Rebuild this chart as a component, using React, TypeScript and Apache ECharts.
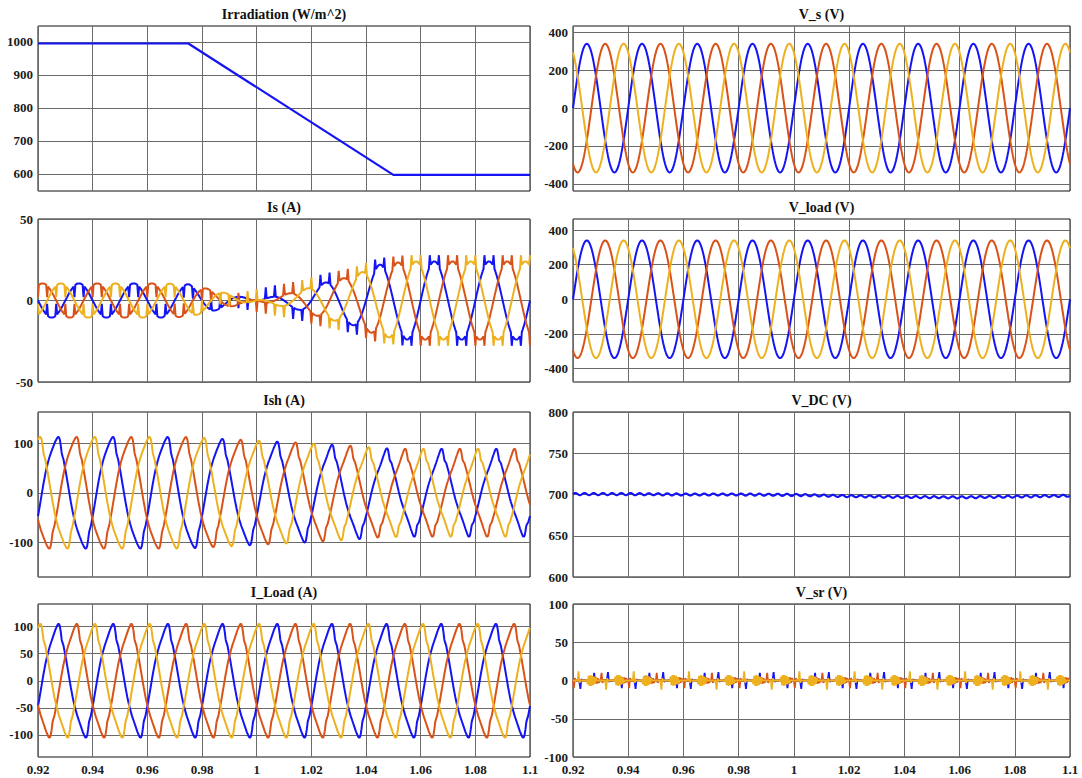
import React, { useEffect, useRef } from 'react';
import * as echarts from 'echarts';

// ---------- time base ----------
const T_START = 0.92;
const T_END = 1.1;
const CYCLE = 0.02; // 50 Hz
const N = 60; // samples per cycle (6 deg each)
const SHIFT = 20; // 120 deg

const xTickValues = [0.92, 0.94, 0.96, 0.98, 1, 1.02, 1.04, 1.06, 1.08, 1.1];

// ---------- Irradiation ----------
const irrTime = [0.92, 0.975, 1.05, 1.1];
const irrValue = [995, 995, 597, 597];
const irrTicks = [600, 700, 800, 900, 1000];

// ---------- grid voltage: one cycle, per unit x1000 ----------
const sineShape = [0, 105, 208, 309, 407, 500, 588, 669, 743, 809, 866, 914, 951, 978, 995, 1000, 995, 978, 951, 914, 866, 809, 743, 669, 588, 500, 407, 309, 208, 105,
  0, -105, -208, -309, -407, -500, -588, -669, -743, -809, -866, -914, -951, -978, -995, -1000, -995, -978, -951, -914, -866, -809, -743, -669, -588, -500, -407, -309, -208, -105];
const vsPeak = 340;
const vloadPeak = 340;
const vTicks = [-400, -200, 0, 200, 400];

// ---------- load current: one cycle of phase a (A) ----------
const iLoadShape = [-47, -38, -28, -18, -8, 2, 12, 21, 30, 38, 45, 52, 58, 64, 69, 74, 79, 84, 89, 94, 98, 102, 105, 105, 101, 90, 76, 70, 65, 56,
  47, 38, 28, 18, 8, -2, -12, -21, -30, -38, -45, -52, -58, -64, -69, -74, -79, -84, -89, -94, -98, -102, -105, -105, -101, -90, -76, -70, -65, -56];
const iLoadTicks = [-100, -50, 0, 50, 100];

// ---------- source current envelope (A, relative to phase voltage) ----------
const isAmpTime = [0.925, 0.935, 0.945, 0.955, 0.965, 0.975, 0.985, 0.995, 1.005, 1.015, 1.025, 1.035, 1.045, 1.055, 1.065, 1.075, 1.085, 1.095];
const isAmp = [-10.5, -10.5, -10.5, -10.5, -10.5, -10, -6, -2, 2, 5.5, 11, 15, 22, 24, 24, 24, 24, 24];
const isSpikeShape = [0, 0, 0, 0, 0, 0, 0, 0, 0, 0, 7, 0, 0, 0, 0, 0, 0, 0, 0, 0, 7, 0, 0, 0, 0, 0, 0, 0, 0, 0,
  0, 0, 0, 0, 0, 0, 0, 0, 0, 0, -7, 0, 0, 0, 0, 0, 0, 0, 0, 0, -7, 0, 0, 0, 0, 0, 0, 0, 0, 0];
const isTicks = [-50, 0, 50];
const ishTicks = [-100, 0, 100];

// ---------- DC link ----------
const vdcTime = [0.92, 0.94, 0.96, 0.98, 1.0, 1.02, 1.04, 1.06, 1.08, 1.1];
const vdcLevel = [700.5, 700.5, 700, 700, 699.5, 698, 697, 696.5, 697.5, 698.5];
const vdcRipple = [0, 0.7, 1.2, 1.2, 0.7, 0, -0.7, -1.2, -1.2, -0.7];
const vdcTicks = [600, 650, 700, 750, 800];

// ---------- series voltage: one cycle per phase (V) ----------
const vsrShapeA = [0, 0, 1, 0, -1, 0, 0, -2, -11, 2, 0, 0, 1, 0, 0, -1, 0, 0, 1, 0, 0, 0, 0, 10, -2, 0, 0, 1, 0, 0,
  0, 0, -1, 0, 1, 0, 0, 2, 11, -2, 0, 0, -1, 0, 0, 1, 0, 0, -1, 0, 0, 0, 0, -10, 2, 0, 0, -1, 0, 0];
const vsrShapeB = [0, 0, 0, 4, -4, 4, -4, 3, -3, 0, 0, 10, -3, 0, 0, 1, 0, 0, -1, 0, 0, 0, 0, 0, 0, -1, 0, 0, 0, 0,
  0, 0, 0, -4, 4, -4, 4, -3, 3, 0, 0, -10, 3, 0, 0, -1, 0, 0, 1, 0, 0, 0, 0, 0, 0, 1, 0, 0, 0, 0];
const vsrShapeC = [0, 0, 0, 0, 0, -1, 5, -6, 7, -7, 7, -6, 6, -5, 4, -3, 0, 0, 0, 0, 0, 0, 0, 0, 0, 0, 12, -3, 0, 0,
  0, 0, 0, 0, 0, 1, -5, 6, -7, 7, -7, 6, -6, 5, -4, 3, 0, 0, 0, 0, 0, 0, 0, 0, 0, 0, -12, 3, 0, 0];
const vsrTicks = [-100, -50, 0, 50, 100];

const COLORS = ['#1414F5', '#D95319', '#EDB120'];
const FONT = '"Liberation Serif", "Times New Roman", serif';

// ---------- helpers ----------
const idx = (k: number, shift: number) => (((k + shift) % N) + N) % N;
const interp = (xs: number[], ys: number[], t: number) => {
  if (t <= xs[0]) return ys[0];
  for (let i = 1; i < xs.length; i++) {
    if (t <= xs[i]) {
      const f = (t - xs[i - 1]) / (xs[i] - xs[i - 1]);
      return ys[i - 1] + f * (ys[i] - ys[i - 1]);
    }
  }
  return ys[ys.length - 1];
};

function buildData() {
  const nS = Math.round(((T_END - T_START) / CYCLE) * N);
  const shifts = [0, -SHIFT, SHIFT];
  const vs: number[][][] = [[], [], []];
  const vl: number[][][] = [[], [], []];
  const il: number[][][] = [[], [], []];
  const is: number[][][] = [[], [], []];
  const ish: number[][][] = [[], [], []];
  const vsr: number[][][] = [[], [], []];
  const vdc: number[][] = [];
  const vsrShapes = [vsrShapeA, vsrShapeB, vsrShapeC];
  for (let k = 0; k <= nS; k++) {
    const t = +(T_START + (k * CYCLE) / N).toFixed(6);
    const amp = interp(isAmpTime, isAmp, t);
    for (let p = 0; p < 3; p++) {
      const j = idx(k, shifts[p]);
      const s = sineShape[j] / 1000;
      vs[p].push([t, vsPeak * s]);
      vl[p].push([t, vloadPeak * s]);
      il[p].push([t, iLoadShape[j]]);
      const isSmooth = amp * s;
      is[p].push([t, isSmooth + isSpikeShape[j]]);
      ish[p].push([t, iLoadShape[j] - isSmooth]);
      vsr[p].push([t, vsrShapes[p][j]]);
    }
    vdc.push([t, interp(vdcTime, vdcLevel, t) + vdcRipple[k % vdcRipple.length]]);
  }
  return { vs, vl, il, is, ish, vsr, vdc };
}

export default function App() {
  const ref = useRef<HTMLDivElement>(null);
  useEffect(() => {
    document.body.style.margin = '0';
    if (!ref.current) return;
    const chart = echarts.init(ref.current, undefined, { renderer: 'svg' });
    const d = buildData();

    const L = { left: 38, width: 492 };
    const R = { left: 573, width: 497 };
    const rows = [
      { top: 26, height: 165 },
      { top: 219, height: 163 },
      { top: 412, height: 165 },
      { top: 604, height: 153 },
    ];
    const panels = [
      { col: L, row: 0, title: 'Irradiation (W/m^2)', min: 548, max: 1048, ticks: irrTicks },
      { col: R, row: 0, title: 'V_s (V)', min: -438, max: 434, ticks: vTicks },
      { col: L, row: 1, title: 'Is (A)', min: -50, max: 50, ticks: isTicks },
      { col: R, row: 1, title: 'V_load (V)', min: -478, max: 464, ticks: vTicks },
      { col: L, row: 2, title: 'Ish (A)', min: -170, max: 163, ticks: ishTicks },
      { col: R, row: 2, title: 'V_DC (V)', min: 600, max: 800, ticks: vdcTicks },
      { col: L, row: 3, title: 'I_Load (A)', min: -141, max: 142, ticks: iLoadTicks },
      { col: R, row: 3, title: 'V_sr (V)', min: -100, max: 100, ticks: vsrTicks },
    ];

    const labelStyle = { fontFamily: FONT, fontWeight: 'bold' as const, fontSize: 13, color: '#1a1a1a' };
    const splitLine = { show: true, lineStyle: { color: '#6a6a6a', width: 1 } };

    const grid = panels.map((p) => ({
      left: p.col.left,
      width: p.col.width,
      top: rows[p.row].top,
      height: rows[p.row].height,
      show: true,
      borderColor: '#111',
      borderWidth: 1,
      backgroundColor: '#fff',
    }));
    const xAxis = panels.map((p, i) => ({
      type: 'value',
      gridIndex: i,
      min: T_START,
      max: T_END,
      axisLine: { show: false },
      axisTick: { show: false, customValues: xTickValues },
      axisLabel: {
        show: p.row === 3,
        customValues: xTickValues,
        margin: 6,
        formatter: (v: number) => String(+v.toFixed(2)),
        ...labelStyle,
      },
      splitLine,
    }));
    const yAxis = panels.map((p, i) => ({
      type: 'value',
      gridIndex: i,
      min: p.min,
      max: p.max,
      axisLine: { show: false },
      axisTick: { show: false, customValues: p.ticks },
      axisLabel: { customValues: p.ticks, margin: 5, formatter: (v: number) => String(v), ...labelStyle },
      splitLine,
    }));

    const line = (i: number, data: number[][], color: string, width = 2) => ({
      type: 'line',
      xAxisIndex: i,
      yAxisIndex: i,
      data,
      showSymbol: false,
      symbol: 'none',
      lineStyle: { color, width },
      silent: true,
    });

    const series: any[] = [];
    series.push(line(0, irrTime.map((t, k) => [t, irrValue[k]]), COLORS[0], 2.2));
    for (let p = 0; p < 3; p++) series.push(line(1, d.vs[p], COLORS[p]));
    for (let p = 0; p < 3; p++) series.push(line(2, d.is[p], COLORS[p]));
    for (let p = 0; p < 3; p++) series.push(line(3, d.vl[p], COLORS[p]));
    for (let p = 0; p < 3; p++) series.push(line(4, d.ish[p], COLORS[p]));
    series.push(line(5, d.vdc, COLORS[0], 2.2));
    for (let p = 0; p < 3; p++) series.push(line(6, d.il[p], COLORS[p]));
    for (let p = 0; p < 3; p++) series.push(line(7, d.vsr[p], COLORS[p], 1.8));

    const titleY = [14, 207, 400, 592];
    const graphic = panels.map((p) => ({
      type: 'text',
      x: p.col.left + p.col.width / 2,
      y: titleY[p.row],
      style: {
        text: p.title,
        fill: '#111',
        font: `bold 14px ${FONT}`,
        textAlign: 'center',
        textVerticalAlign: 'middle',
      },
    }));

    chart.setOption({
      animation: false,
      backgroundColor: '#fff',
      grid,
      xAxis,
      yAxis,
      series,
      graphic,
    });
    return () => chart.dispose();
  }, []);
  return <div ref={ref} style={{ width: 1082, height: 778 }} />;
}
